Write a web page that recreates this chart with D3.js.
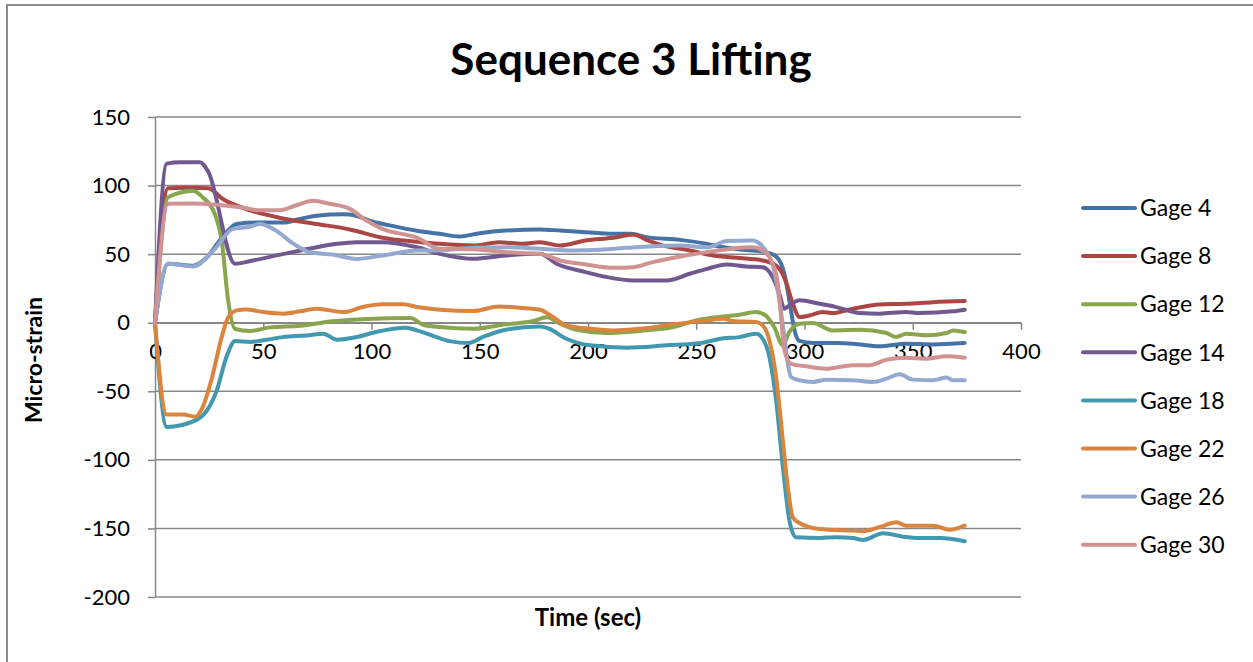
<!DOCTYPE html>
<html>
<head>
<meta charset="utf-8">
<script src="https://cdn.jsdelivr.net/npm/d3@7"></script>
<style>
  html, body { margin: 0; padding: 0; background: #fff; }
  svg { display: block; }
  text { font-family: Lato, "Open Sans", sans-serif; fill: #000; }
</style>
</head>
<body>
<svg id="chart" width="1253" height="662"></svg>
<script>
// Strain readings, [time (s), micro-strain]
const gage4 = [[0,0],[6,43],[17.7,41.6],[24,47.7],[30,60],[37.7,72],[47,73],[59,73],[67,75.7],[74.6,78],[87,79],[93,78],[99,74.5],[108.5,71],[121,67],[131.5,64.8],[140.7,62.9],[150,65.3],[162,67.2],[177.8,68],[187,67.2],[199,66],[211.7,64.8],[219.4,64.8],[227,62.4],[242.6,60.4],[255,57.5],[262.6,55],[273,53],[282,51.5],[286.9,48.3],[290.7,35.7],[293,16.3],[295.4,-5.6],[297.7,-13.3],[303.9,-14.8],[314.7,-14.8],[322.4,-15.3],[334.7,-17.2],[347,-15.3],[359.4,-15.8],[374,-14.8]];
const gage8 = [[0,0],[6,98],[15,98.5],[24.6,98],[31.5,90],[44,82],[59,76],[74.6,72],[90,68],[105,62],[121,59],[131.5,57.5],[147,56.3],[159,58.7],[170,57.5],[177.8,58.7],[187,56.3],[199,60],[211.7,61.9],[221,64.3],[227,60.4],[233,57],[247,52.7],[258,49],[268.4,47.3],[280.7,45.4],[286.9,41.7],[291.5,29.6],[294.6,13.8],[297.7,4.1],[302.3,5.3],[308.5,7.8],[313,7],[322.4,10.2],[334.7,13.3],[347,13.8],[359.4,15],[374,15.8]];
const gage12 = [[0,0],[6,91.5],[17.7,96],[22,91.5],[27.7,79],[30.8,60],[33.8,16],[37,-4.6],[44,-6],[53,-3.4],[67,-2.2],[82,1],[98,2.7],[118,3.4],[124,-1.5],[131.5,-3.2],[147,-4.4],[162,-1.2],[174.7,1.2],[181,4],[187,-0.7],[196,-5.6],[208.6,-7.5],[224,-6],[239.5,-3.2],[250,1.7],[262.6,4.6],[270,5.8],[277.6,7.8],[282,5.3],[286,-3.2],[290,-16.5],[293,-6.8],[297.7,-0.7],[303.9,-0.2],[313,-5.6],[325.5,-5.1],[337.8,-7.5],[342.4,-10.4],[347,-8],[356.3,-9.2],[365.6,-7.5],[368.7,-5.6],[374,-6.8]];
const gage14 = [[0,0],[5.4,116],[12,117],[20.8,117],[24.6,110],[37,43],[44,45],[59,50],[74.6,55],[84,57.5],[93,58.7],[105,58.7],[121,55],[131.5,50.2],[147,46.6],[162,49],[177.8,50.2],[185.5,43],[199,36.9],[208.6,33.3],[221,30.8],[236.4,30.8],[247,35.7],[255,39.3],[264,42.5],[273,41],[280.7,40.5],[285.3,33.3],[288.4,21],[290.7,10.2],[293,12.6],[297.7,16.3],[307,13.8],[314.7,11.4],[325.5,7],[334.7,6.6],[347,7.8],[353,7],[368.5,8.3],[374,9.5]];
const gage18 = [[0,0],[5.4,-76],[19,-71],[24,-64],[28.5,-49.5],[33,-25],[37,-13.4],[44,-14],[51.5,-12.4],[59,-10.5],[70,-9.3],[77.7,-8],[84,-12.4],[93,-10.5],[102,-6.8],[116,-3.7],[121,-5.6],[130,-10.5],[136,-13.4],[145,-14.8],[151.5,-10.4],[162,-5.1],[177.8,-2.7],[182,-4.4],[190,-11.7],[201,-16.5],[218,-18.2],[236.4,-16.5],[252,-14.8],[262,-11.5],[270,-10.5],[277.6,-8],[280.7,-11.7],[283.8,-25],[286.9,-56.7],[290,-105],[293,-144],[296,-156.4],[307,-157],[314.7,-156.4],[322.4,-157],[327,-158.4],[336.3,-153.5],[345.5,-156],[353,-157],[362.5,-157],[374,-159.4]];
const gage22 = [[0,0],[5.4,-67],[13,-67],[18.5,-68.5],[22,-61.7],[26,-42],[30.8,-10.5],[33.8,4],[37.7,9],[42,9.7],[50,7.8],[59,6.6],[67,8.3],[74.6,10.2],[87,7.8],[96,11.5],[105,13.4],[114.6,13.4],[121,11.5],[131.5,9.5],[147,8.5],[159,11.9],[168.5,10.9],[177.8,9.5],[184,4],[190,-2],[201,-4.4],[211.7,-5.6],[224,-4.4],[239.5,-1.2],[255,1.7],[262.6,2.9],[267,1.2],[277.6,0.5],[280.7,-2],[283.8,-12.9],[286.9,-39.7],[290,-85.9],[292.3,-120],[294.6,-141.8],[297.7,-146],[307,-150.4],[322.4,-151.6],[327,-152],[334.7,-149],[342.4,-145.5],[347,-148],[359.4,-148],[367,-151],[374,-148]];
const gage26 = [[0,0],[6,43],[17.7,41],[27,52.6],[36,68.4],[44,70],[48.5,72],[56,67],[64,57.5],[71.5,51.4],[82,49.7],[93,46.5],[105,49],[121,52.6],[131.5,52.7],[147,54.6],[162,55],[177.8,53.9],[193,52.7],[205.6,53.2],[218,54.6],[230,55.8],[242.6,56.3],[255,55],[264,59.5],[276,60],[278.4,58.7],[282,52.7],[286,38],[288.4,16],[290.7,-10.4],[292.3,-30],[293.8,-39.6],[297.7,-42],[303.9,-43.2],[310,-41.5],[322.4,-42],[331.6,-43.2],[337.8,-40.8],[344,-37.6],[350,-41.5],[359.4,-42],[365.6,-40],[368.7,-42],[374,-42]];
const gage30 = [[0,0],[6,86.7],[17,87],[28.5,86],[40.8,83.8],[48.5,82],[57.7,82],[65,85.5],[73,89],[80.8,86.7],[90,83],[97.7,74.5],[105,68.4],[121,62],[131.5,53.9],[147,53.6],[162,51.4],[177.8,50.2],[187,45.4],[199,42.5],[211.7,40],[221,40.5],[230,44.2],[242.6,48.3],[255,51.5],[266,54],[276,55],[280.7,52.7],[285.3,43],[287.7,28.4],[289.2,4],[290.7,-20],[293.8,-30],[300.8,-31.8],[310,-33.5],[322.4,-31],[330,-31],[337.8,-27],[347,-25.5],[356,-26.2],[365.6,-24.5],[374,-25.5]];

const seriesNames = ["Gage 4", "Gage 8", "Gage 12", "Gage 14", "Gage 18", "Gage 22", "Gage 26", "Gage 30"];
const seriesData = [gage4, gage8, gage12, gage14, gage18, gage22, gage26, gage30];
const seriesColors = ["#4572A7", "#AA4643", "#89A54E", "#71588F", "#4198AF", "#DB843D", "#93A9CF", "#D19392"];

const xTicks = [0, 50, 100, 150, 200, 250, 300, 350, 400];
const yTicks = [-200, -150, -100, -50, 0, 50, 100, 150];

const titleText = "Sequence 3 Lifting";
const xTitle = "Time (sec)";
const yTitle = "Micro-strain";

const svg = d3.select("#chart");
const plot = { left: 155, right: 1021, top: 117, bottom: 597 };
const gridColor = "#878787";

const x = d3.scaleLinear().domain([0, 400]).range([plot.left, plot.right]);
const y = d3.scaleLinear().domain([-200, 150]).range([plot.bottom, plot.top]);

// Outer chart frame
svg.append("rect")
  .attr("x", 7).attr("y", 5).attr("width", 1400).attr("height", 800)
  .attr("fill", "none").attr("stroke", "#8c8c8c").attr("stroke-width", 2);

// Horizontal gridlines
svg.append("g").selectAll("line").data(yTicks).join("line")
  .attr("x1", plot.left).attr("x2", plot.right)
  .attr("y1", d => y(d)).attr("y2", d => y(d))
  .attr("stroke", gridColor).attr("stroke-width", 1.5);

// Y axis (plain hyphen for negatives)
const yAxis = svg.append("g")
  .attr("transform", `translate(${plot.left},0)`)
  .call(d3.axisLeft(y).tickValues(yTicks).tickFormat(d => String(d))
    .tickSize(7).tickSizeOuter(0).tickPadding(18));
yAxis.select(".domain").attr("stroke", gridColor).attr("stroke-width", 1.5);
yAxis.selectAll(".tick line").attr("stroke", gridColor).attr("stroke-width", 1.5);
yAxis.selectAll("text").attr("font-size", 22).attr("font-family", "Lato").attr("fill", "#000");

// X axis crossing at zero
const xAxis = svg.append("g")
  .attr("transform", `translate(0,${y(0)})`)
  .call(d3.axisBottom(x).tickValues(xTicks).tickFormat(d => String(d))
    .tickSize(7).tickSizeOuter(0).tickPadding(14));
xAxis.select(".domain").attr("stroke", gridColor).attr("stroke-width", 1.5);
xAxis.selectAll(".tick line").attr("stroke", gridColor).attr("stroke-width", 1.5);
xAxis.selectAll("text").attr("font-size", 22).attr("font-family", "Lato").attr("fill", "#000");

// Series lines
const line = d3.line()
  .x(d => x(d[0]))
  .y(d => y(d[1]))
  .curve(d3.curveMonotoneX);

svg.append("g").selectAll("path").data(seriesData).join("path")
  .attr("d", d => line(d))
  .attr("fill", "none")
  .attr("stroke", (d, i) => seriesColors[i])
  .attr("stroke-width", 4)
  .attr("stroke-linejoin", "round")
  .attr("stroke-linecap", "round");

// Title
svg.append("text")
  .attr("x", 631).attr("y", 75)
  .attr("text-anchor", "middle")
  .attr("font-size", 44).attr("font-weight", "bold")
  .text(titleText);

// Axis titles
svg.append("text")
  .attr("x", 588).attr("y", 626)
  .attr("text-anchor", "middle")
  .attr("font-size", 24).attr("font-weight", "bold")
  .text(xTitle);

svg.append("text")
  .attr("transform", `translate(42,360) rotate(-90)`)
  .attr("text-anchor", "middle")
  .attr("font-size", 23).attr("font-weight", "bold")
  .text(yTitle);

// Legend
const legend = svg.append("g").selectAll("g").data(seriesNames).join("g")
  .attr("transform", (d, i) => `translate(1081,${208 + i * 48.1})`);
legend.append("line")
  .attr("x1", 2).attr("x2", 54).attr("y1", 0).attr("y2", 0)
  .attr("stroke", (d, i) => seriesColors[i])
  .attr("stroke-width", 4).attr("stroke-linecap", "round");
legend.append("text")
  .attr("x", 59).attr("y", 0).attr("dy", "0.36em")
  .attr("font-size", 23)
  .text(d => d);
</script>
</body>
</html>
